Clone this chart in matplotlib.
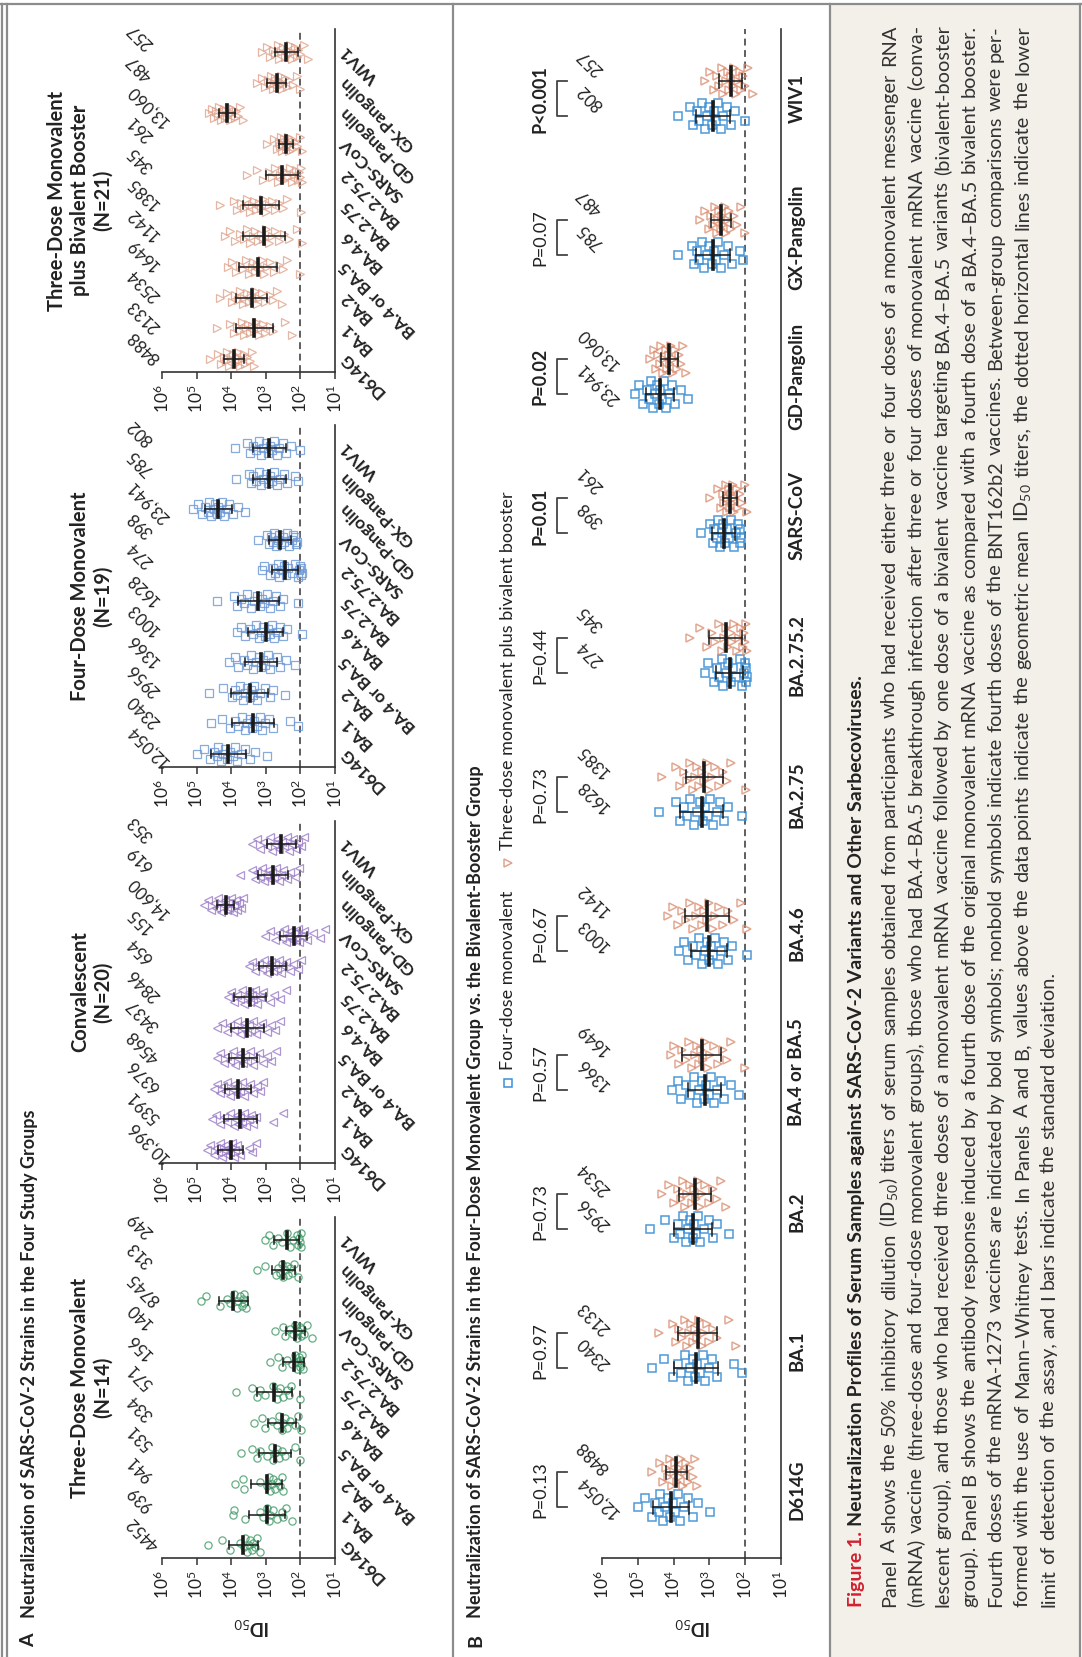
import numpy as np
import matplotlib
matplotlib.use('Agg')
import matplotlib.pyplot as plt
from matplotlib.patches import Rectangle
from matplotlib.ticker import NullLocator

plt.rcParams['font.family'] = ['Lato', 'DejaVu Sans']
plt.rcParams['mathtext.fontset'] = 'custom'
plt.rcParams['mathtext.rm'] = 'Lato'
plt.rcParams['mathtext.it'] = 'Lato:italic'
plt.rcParams['mathtext.bf'] = 'Lato:bold'

strains = ['D614G', 'BA.1', 'BA.2', 'BA.4 or BA.5', 'BA.4.6', 'BA.2.75',
           'BA.2.75.2', 'SARS-CoV', 'GD-Pangolin', 'GX-Pangolin', 'WIV1']

# geometric mean ID50 titers printed above the points
gmt_three = [4452, 939, 941, 531, 334, 571, 156, 140, 8745, 313, 249]
gmt_conv = [10396, 5391, 6376, 4568, 3437, 2846, 654, 155, 14600, 619, 353]
gmt_four = [12054, 2340, 2956, 1366, 1003, 1628, 274, 398, 23941, 785, 802]
gmt_biv = [8488, 2133, 2534, 1649, 1142, 1385, 345, 261, 13060, 487, 257]

# standard deviation (log10 units)
sd_three = [0.41, 0.52, 0.45, 0.46, 0.40, 0.51, 0.30, 0.28, 0.42, 0.33, 0.36]
sd_conv = [0.36, 0.47, 0.38, 0.41, 0.47, 0.46, 0.39, 0.39, 0.25, 0.42, 0.43]
sd_four = [0.50, 0.62, 0.53, 0.46, 0.50, 0.60, 0.38, 0.32, 0.39, 0.48, 0.48]
sd_biv = [0.29, 0.54, 0.45, 0.55, 0.61, 0.52, 0.46, 0.20, 0.23, 0.28, 0.33]

# individual log10 ID50 titers, one list per strain
three_dose = [
    [4.68, 4.27, 4.03, 3.74, 3.64, 3.60, 3.55, 3.50, 3.45, 3.40, 3.36, 3.31, 3.26, 3.18],
    [3.96, 3.93, 3.60, 3.16, 3.07, 2.97, 2.92, 2.88, 2.78, 2.68, 2.54, 2.49, 2.41, 2.25],
    [3.90, 3.66, 3.64, 3.16, 2.97, 2.92, 2.88, 2.83, 2.78, 2.73, 2.68, 2.59, 2.54, 2.51],
    [3.72, 3.40, 3.26, 3.16, 2.97, 2.83, 2.78, 2.73, 2.68, 2.61, 2.54, 2.44, 2.15, 2.01],
    [3.33, 3.12, 3.02, 2.83, 2.68, 2.61, 2.54, 2.49, 2.44, 2.39, 2.30, 2.15, 2.06, 1.99],
    [3.86, 3.40, 3.26, 3.16, 3.02, 2.78, 2.68, 2.64, 2.59, 2.51, 2.39, 2.32, 2.27, 2.01],
    [2.89, 2.65, 2.54, 2.39, 2.25, 2.15, 2.11, 2.06, 2.03, 2.01, 2.01, 1.99, 1.96, 1.93],
    [2.73, 2.49, 2.44, 2.30, 2.20, 2.15, 2.11, 2.06, 2.01, 1.99, 1.96, 1.91, 1.82, 1.67],
    [4.88, 4.73, 4.32, 4.13, 4.03, 3.93, 3.84, 3.79, 3.74, 3.69, 3.66, 3.64, 3.62, 3.57],
    [3.26, 3.02, 2.70, 2.64, 2.59, 2.54, 2.49, 2.44, 2.39, 2.35, 2.30, 2.25, 2.18, 2.08],
    [3.02, 2.92, 2.78, 2.65, 2.54, 2.39, 2.30, 2.20, 2.11, 2.06, 2.03, 2.01, 1.99, 1.98],
]
convalescent = [
    [4.70, 4.61, 4.51, 4.43, 4.37, 4.32, 4.27, 4.22, 4.17, 4.13, 4.08, 4.03, 3.98, 3.93, 3.88, 3.82, 3.74, 3.50, 3.40, 3.28],
    [4.56, 4.43, 4.32, 4.20, 4.13, 4.03, 3.93, 3.88, 3.84, 3.79, 3.74, 3.69, 3.64, 3.57, 3.50, 3.43, 3.36, 3.28, 2.78, 2.49],
    [4.51, 4.41, 4.32, 4.24, 4.17, 4.11, 4.03, 3.98, 3.93, 3.86, 3.82, 3.76, 3.69, 3.63, 3.55, 3.45, 3.36, 3.26, 3.16, 3.09],
    [4.41, 4.32, 4.22, 4.13, 4.03, 3.95, 3.88, 3.82, 3.74, 3.66, 3.60, 3.53, 3.45, 3.38, 3.31, 3.21, 3.07, 2.97, 2.86, 2.70],
    [4.41, 4.27, 4.13, 4.03, 3.93, 3.84, 3.76, 3.69, 3.63, 3.55, 3.49, 3.43, 3.36, 3.28, 3.21, 3.12, 2.97, 2.86, 2.73, 2.59],
    [4.10, 4.01, 3.93, 3.84, 3.76, 3.69, 3.63, 3.57, 3.50, 3.45, 3.40, 3.36, 3.30, 3.24, 3.16, 3.07, 2.88, 2.76, 2.59, 2.41],
    [3.50, 3.40, 3.31, 3.21, 3.12, 3.05, 2.97, 2.91, 2.86, 2.80, 2.74, 2.68, 2.63, 2.57, 2.49, 2.41, 2.30, 2.20, 2.08, 1.98],
    [3.02, 2.88, 2.73, 2.63, 2.54, 2.47, 2.41, 2.36, 2.30, 2.24, 2.18, 2.13, 2.08, 2.03, 1.98, 1.91, 1.82, 1.63, 1.43, 1.29],
    [4.80, 4.68, 4.59, 4.51, 4.43, 4.37, 4.30, 4.24, 4.18, 4.13, 4.09, 4.05, 4.01, 3.96, 3.91, 3.87, 3.82, 3.77, 3.72, 3.66],
    [3.74, 3.40, 3.31, 3.24, 3.16, 3.11, 3.05, 2.99, 2.93, 2.88, 2.82, 2.76, 2.70, 2.63, 2.57, 2.49, 2.39, 2.30, 2.15, 2.03],
    [3.40, 3.26, 3.16, 3.07, 2.97, 2.89, 2.83, 2.76, 2.68, 2.61, 2.54, 2.47, 2.39, 2.33, 2.26, 2.20, 2.13, 2.06, 1.99, 1.91],
]
four_dose = [
    [4.99, 4.80, 4.61, 4.51, 4.41, 4.37, 4.30, 4.24, 4.17, 4.11, 4.03, 3.95, 3.88, 3.82, 3.72, 3.60, 3.45, 3.31, 2.97],
    [4.59, 4.27, 4.03, 3.88, 3.79, 3.69, 3.60, 3.53, 3.47, 3.40, 3.34, 3.26, 3.18, 3.12, 3.02, 2.92, 2.78, 2.30, 2.08],
    [4.65, 4.24, 3.98, 3.88, 3.82, 3.74, 3.66, 3.60, 3.53, 3.47, 3.43, 3.38, 3.33, 3.26, 3.16, 3.02, 2.89, 2.78, 2.44],
    [4.05, 3.88, 3.79, 3.64, 3.53, 3.43, 3.36, 3.28, 3.21, 3.14, 3.09, 3.02, 2.95, 2.88, 2.78, 2.68, 2.59, 2.41, 2.17],
    [3.84, 3.72, 3.60, 3.47, 3.38, 3.28, 3.20, 3.13, 3.07, 3.01, 2.95, 2.89, 2.83, 2.76, 2.68, 2.59, 2.49, 2.38, 1.96],
    [4.41, 3.93, 3.82, 3.72, 3.63, 3.53, 3.43, 3.34, 3.26, 3.18, 3.12, 3.05, 2.97, 2.89, 2.80, 2.70, 2.59, 2.49, 2.08],
    [3.12, 3.05, 2.88, 2.78, 2.72, 2.66, 2.61, 2.54, 2.47, 2.41, 2.35, 2.25, 2.15, 2.08, 2.03, 2.01, 1.99, 1.97, 1.95],
    [3.23, 2.97, 2.91, 2.86, 2.80, 2.75, 2.70, 2.65, 2.61, 2.56, 2.51, 2.46, 2.39, 2.32, 2.25, 2.20, 2.14, 2.15, 2.11],
    [5.09, 4.97, 4.85, 4.75, 4.68, 4.63, 4.57, 4.51, 4.46, 4.41, 4.37, 4.32, 4.26, 4.20, 4.13, 4.05, 3.95, 3.79, 3.60],
    [3.87, 3.50, 3.43, 3.36, 3.28, 3.21, 3.14, 3.07, 3.00, 2.93, 2.88, 2.82, 2.76, 2.68, 2.59, 2.47, 2.38, 2.15, 2.06],
    [3.88, 3.53, 3.45, 3.36, 3.28, 3.20, 3.13, 3.07, 3.00, 2.93, 2.88, 2.82, 2.75, 2.68, 2.61, 2.51, 2.41, 2.28, 2.01],
]
bivalent = [
    [4.61, 4.39, 4.30, 4.22, 4.16, 4.11, 4.05, 4.00, 3.95, 3.90, 3.86, 3.82, 3.79, 3.74, 3.69, 3.64, 3.60, 3.53, 3.47, 3.40, 3.34],
    [4.41, 4.03, 3.93, 3.84, 3.76, 3.69, 3.63, 3.57, 3.51, 3.45, 3.39, 3.34, 3.28, 3.21, 3.14, 3.07, 3.01, 2.89, 2.78, 2.44, 2.25],
    [4.32, 4.13, 3.98, 3.88, 3.80, 3.74, 3.67, 3.62, 3.55, 3.49, 3.43, 3.38, 3.32, 3.26, 3.20, 3.12, 3.02, 2.89, 2.78, 2.67, 2.54],
    [4.08, 3.98, 3.86, 3.76, 3.66, 3.57, 3.49, 3.41, 3.36, 3.30, 3.24, 3.18, 3.12, 3.05, 2.97, 2.88, 2.76, 2.63, 2.51, 2.39, 2.01],
    [4.17, 4.03, 3.88, 3.76, 3.64, 3.55, 3.45, 3.38, 3.30, 3.22, 3.14, 3.07, 3.00, 2.91, 2.83, 2.73, 2.61, 2.47, 2.32, 2.11, 1.96],
    [4.32, 3.93, 3.82, 3.72, 3.63, 3.55, 3.47, 3.40, 3.34, 3.28, 3.21, 3.14, 3.07, 3.00, 2.92, 2.83, 2.73, 2.63, 2.51, 2.39, 1.99],
    [3.55, 3.26, 3.07, 2.92, 2.83, 2.73, 2.66, 2.59, 2.53, 2.47, 2.41, 2.36, 2.30, 2.24, 2.18, 2.13, 2.07, 2.03, 2.00, 1.97, 1.95],
    [2.97, 2.76, 2.68, 2.62, 2.59, 2.55, 2.52, 2.49, 2.46, 2.43, 2.40, 2.38, 2.35, 2.32, 2.28, 2.24, 2.20, 2.15, 2.09, 2.01, 1.96],
    [4.65, 4.56, 4.49, 4.43, 4.38, 4.34, 4.30, 4.26, 4.22, 4.18, 4.14, 4.11, 4.07, 4.03, 3.99, 3.95, 3.90, 3.86, 3.80, 3.74, 3.66],
    [3.26, 3.12, 3.02, 2.95, 2.89, 2.84, 2.80, 2.76, 2.72, 2.68, 2.64, 2.61, 2.57, 2.53, 2.49, 2.44, 2.39, 2.32, 2.22, 2.11, 2.01],
    [3.12, 2.97, 2.88, 2.80, 2.73, 2.66, 2.61, 2.55, 2.49, 2.44, 2.39, 2.35, 2.30, 2.25, 2.20, 2.15, 2.11, 2.06, 2.01, 1.91, 1.77],
]

p_labels = ['P=0.13', 'P=0.97', 'P=0.73', 'P=0.57', 'P=0.67', 'P=0.73',
            'P=0.44', 'P=0.01', 'P=0.02', 'P=0.07', 'P<0.001']
p_bold = [False, False, False, False, False, False, False, True, True, False, True]

lod = 100  # lower limit of detection

caption_body = [
    "Panel A shows the 50% inhibitory dilution (ID$_{50}$) titers of serum samples obtained from participants who had received either three or four doses of a monovalent messenger RNA",
    "(mRNA) vaccine (three-dose and four-dose monovalent groups), those who had BA.4\u2013BA.5 breakthrough infection after three or four doses of monovalent mRNA vaccine (conva-",
    "lescent group), and those who had received three doses of a monovalent mRNA vaccine followed by one dose of a bivalent vaccine targeting BA.4\u2013BA.5 variants (bivalent-booster",
    "group). Panel B shows the antibody response induced by a fourth dose of the original monovalent mRNA vaccine as compared with a fourth dose of a BA.4\u2013BA.5 bivalent booster.",
    "Fourth doses of the mRNA-1273 vaccines are indicated by bold symbols; nonbold symbols indicate fourth doses of the BNT162b2 vaccines. Between-group comparisons were per-",
    "formed with the use of Mann\u2013Whitney tests. In Panels A and B, values above the data points indicate the geometric mean ID$_{50}$ titers, the dotted horizontal lines indicate the lower",
    "limit of detection of the assay, and I bars indicate the standard deviation.",
]

W, H = 1082, 1657
fig = plt.figure(figsize=(W / 100, H / 100), dpi=100)
ink = '#222222'

# page furniture (pixel coordinates, y from the top)
ov = fig.add_axes([0, 0, 1, 1], zorder=-5)
ov.set_xlim(0, W)
ov.set_ylim(H, 0)
ov.axis('off')
ov.add_patch(Rectangle((831, 4), 249, H, fc='#f3f0ea', ec='none'))
fcol = '#8c8c8c'
ov.plot([0, W], [4, 4], color=fcol, lw=1.6)
for xv in [1.5, 6.5, 453, 830, 1080]:
    ov.plot([xv, xv], [4, H], color=fcol, lw=1.6)


def fmt_gmt(g):
    return f"{g:,}" if g >= 10000 else str(g)


jit = np.array([0.0, 0.7, -0.7, 0.35, -0.35, 1.0, -1.0])


def spread(n, w):
    return jit[np.arange(n) % len(jit)] * w


def axes_px(x0, x1, y0, y1):
    ax = fig.add_axes([x0 / W, 1 - y1 / H, (x1 - x0) / W, (y1 - y0) / H])
    ax.set_facecolor('none')
    ax.set_xscale('log')
    ax.set_xlim(1e6, 1e1)
    ax.set_xticks([1e6, 1e5, 1e4, 1e3, 1e2, 1e1])
    ax.xaxis.set_minor_locator(NullLocator())
    ax.set_yticks([])
    for s in ['left', 'top']:
        ax.spines[s].set_visible(False)
    for s in ['bottom', 'right']:
        ax.spines[s].set_color('#333333')
        ax.spines[s].set_linewidth(1.2)
    ax.tick_params(axis='x', direction='out', length=5, width=1.1, color='#333333',
                   labelrotation=90, labelsize=12.5, pad=4, labelcolor=ink)
    ax.axvline(lod, color='#333333', lw=1.1, ls=(0, (4.5, 3)), zorder=1)
    return ax


def draw_group(ax, yc, vals, gmt, sd, marker, color, ms, alpha, jw, cap, mh, mew):
    v = np.array(vals)
    ax.plot(10 ** v, yc + spread(len(v), jw), ls='none', marker=marker, ms=ms,
            mfc='none', mec=color, mew=mew, alpha=alpha, zorder=2)
    m = np.log10(gmt)
    lo, hi = 10 ** (m - sd), 10 ** (m + sd)
    ax.plot([lo, hi], [yc, yc], color='#1a1a1a', lw=1.1, zorder=4)
    ax.plot([lo, lo], [yc - cap, yc + cap], color='#1a1a1a', lw=1.1, zorder=4)
    ax.plot([hi, hi], [yc - cap, yc + cap], color='#1a1a1a', lw=1.1, zorder=4)
    ax.plot([10 ** m, 10 ** m], [yc - mh, yc + mh], color='#1a1a1a', lw=2.6, zorder=5)


# ---------------- Panel A ----------------
panel_a = [
    ("Three-Dose Monovalent\n(N=14)", three_dose, gmt_three, sd_three, 'o', '#3f9a66', (1217, 1558)),
    ("Convalescent\n(N=20)", convalescent, gmt_conv, sd_conv, '<', '#9a7cc6', (821, 1163)),
    ("Four-Dose Monovalent\n(N=19)", four_dose, gmt_four, sd_four, 's', '#6a96d6', (425, 767)),
    ("Three-Dose Monovalent\nplus Bivalent Booster\n(N=21)", bivalent, gmt_biv, sd_biv, '>', '#e0a48e', (29, 372)),
]

for title, vals, gmt, sd, mk, col, (y0, y1) in panel_a:
    ax = axes_px(162, 335, y0, y1)
    ax.set_ylim(-0.425, 10.75)
    tr = ax.get_yaxis_transform()
    for i in range(len(strains)):
        draw_group(ax, i, vals[i], gmt[i], sd[i], mk, col, 5.2, 0.8, 0.22, 0.13, 0.26, 0.9)
        ax.text(-0.185, i + 0.85, fmt_gmt(gmt[i]), transform=tr, rotation=135,
                rotation_mode='anchor', ha='right', va='center', fontsize=12, color=ink)
        ax.text(1.045, i + 0.12, strains[i], transform=tr, rotation=135,
                rotation_mode='anchor', ha='right', va='center', fontsize=12.5,
                fontweight='bold', color=ink)
    ov.text(113, (y0 + y1) / 2, title, rotation=90, ha='right', va='center',
            multialignment='center', fontsize=14.5, fontweight='bold',
            linespacing=1.18, color=ink)

ov.text(252, 1627, "ID$_{50}$", rotation=180, ha='center', va='center',
        fontsize=13.5, fontweight='bold', color=ink)
ov.text(29, 1647, "A", rotation=90, rotation_mode='anchor', ha='left', va='center',
        fontsize=14, fontweight='bold', color=ink)
ov.text(29, 1618, "Neutralization of SARS-CoV-2 Strains in the Four Study Groups",
        rotation=90, rotation_mode='anchor', ha='left', va='center',
        fontsize=13, fontweight='bold', color=ink)

# ---------------- Panel B ----------------
axb = axes_px(602, 781, 29, 1558)
axb.set_ylim(-0.49, 10.5)
trb = axb.get_yaxis_transform()
off = 0.126
for i in range(len(strains)):
    draw_group(axb, i - off, four_dose[i], gmt_four[i], sd_four[i], 's', '#3a8fd6',
               5.8, 0.9, 0.095, 0.047, 0.1, 1.1)
    draw_group(axb, i + off, bivalent[i], gmt_biv[i], sd_biv[i], '>', '#d98a6c',
               6.0, 0.75, 0.095, 0.047, 0.1, 1.1)
    axb.text(-0.123, i - off + 0.21, fmt_gmt(gmt_four[i]), transform=trb, rotation=135,
             rotation_mode='anchor', ha='right', va='center', fontsize=12, color=ink)
    axb.text(-0.123, i + off + 0.21, fmt_gmt(gmt_biv[i]), transform=trb, rotation=135,
             rotation_mode='anchor', ha='right', va='center', fontsize=12, color=ink)
    axb.plot([-0.196, -0.251, -0.251, -0.196], [i - off, i - off, i + off, i + off],
             transform=trb, clip_on=False, color='#444444', lw=1.3)
    axb.text(-0.346, i, p_labels[i], transform=trb, rotation=90, ha='center', va='center',
             fontsize=13, fontweight='bold' if p_bold[i] else 'normal', color=ink)
    axb.text(1.089, i, strains[i], transform=trb, rotation=90, ha='center', va='center',
             fontsize=13.5, fontweight='bold', color=ink)

ov.text(693, 1627, "ID$_{50}$", rotation=180, ha='center', va='center',
        fontsize=13.5, fontweight='bold', color=ink)
ov.text(476, 1647, "B", rotation=90, rotation_mode='anchor', ha='left', va='center',
        fontsize=14, fontweight='bold', color=ink)
ov.text(476, 1618, "Neutralization of SARS-CoV-2 Strains in the Four-Dose Monovalent Group vs. the Bivalent-Booster Group",
        rotation=90, rotation_mode='anchor', ha='left', va='center',
        fontsize=13, fontweight='bold', color=ink)

# legend
ov.plot(508, 1083, marker='s', ms=5.8, mfc='none', mec='#3a8fd6', mew=1.1)
ov.text(508, 1070, "Four-dose monovalent", rotation=90, rotation_mode='anchor',
        ha='left', va='center', fontsize=13, color=ink)
ov.plot(508, 863, marker='>', ms=6.0, mfc='none', mec='#e0a48e', mew=1.1)
ov.text(508, 850, "Three-dose monovalent plus bivalent booster", rotation=90,
        rotation_mode='anchor', ha='left', va='center', fontsize=13, color=ink)

# ---------------- Caption ----------------
renderer = fig.canvas.get_renderer()


def text_len(s, size, weight='normal'):
    t = ov.text(0, 0, s, fontsize=size, fontweight=weight)
    w = t.get_window_extent(renderer).width
    t.remove()
    return w


y_start, y_end = 1607, 25
avail = y_start - y_end
x_lines = [895, 921.5, 948, 975, 1001, 1028, 1054]

head_size = 14
head_w = text_len("Figure 1. N", head_size, 'bold') - text_len("N", head_size, 'bold')
ov.text(862, y_start, "Figure 1.", rotation=90, rotation_mode='anchor', ha='left',
        va='baseline', fontsize=head_size, fontweight='bold', color='#d2202e')
ov.text(862, y_start - head_w, "Neutralization Profiles of Serum Samples against SARS-CoV-2 Variants and Other Sarbecoviruses.",
        rotation=90, rotation_mode='anchor', ha='left', va='baseline',
        fontsize=head_size, fontweight='bold', color=ink)

# one common size for the body, so the widest justified line fits with normal spacing
base = 15
fits = [avail / text_len(line, base) for line in caption_body[:-1]]
body_size = min(base, base * min(fits))
space_w = text_len("a a", body_size) - 2 * text_len("a", body_size)
for k, line in enumerate(caption_body):
    words = line.split(' ')
    widths = [text_len(w, body_size) for w in words]
    if k == len(caption_body) - 1:
        gap = space_w
    else:
        gap = (avail - sum(widths)) / (len(words) - 1)
    y = y_start
    for w, wd in zip(words, widths):
        ov.text(x_lines[k], y, w, rotation=90, rotation_mode='anchor', ha='left',
                va='baseline', fontsize=body_size, color='#333333')
        y -= wd + gap

fig.savefig('out.png', dpi=100)
